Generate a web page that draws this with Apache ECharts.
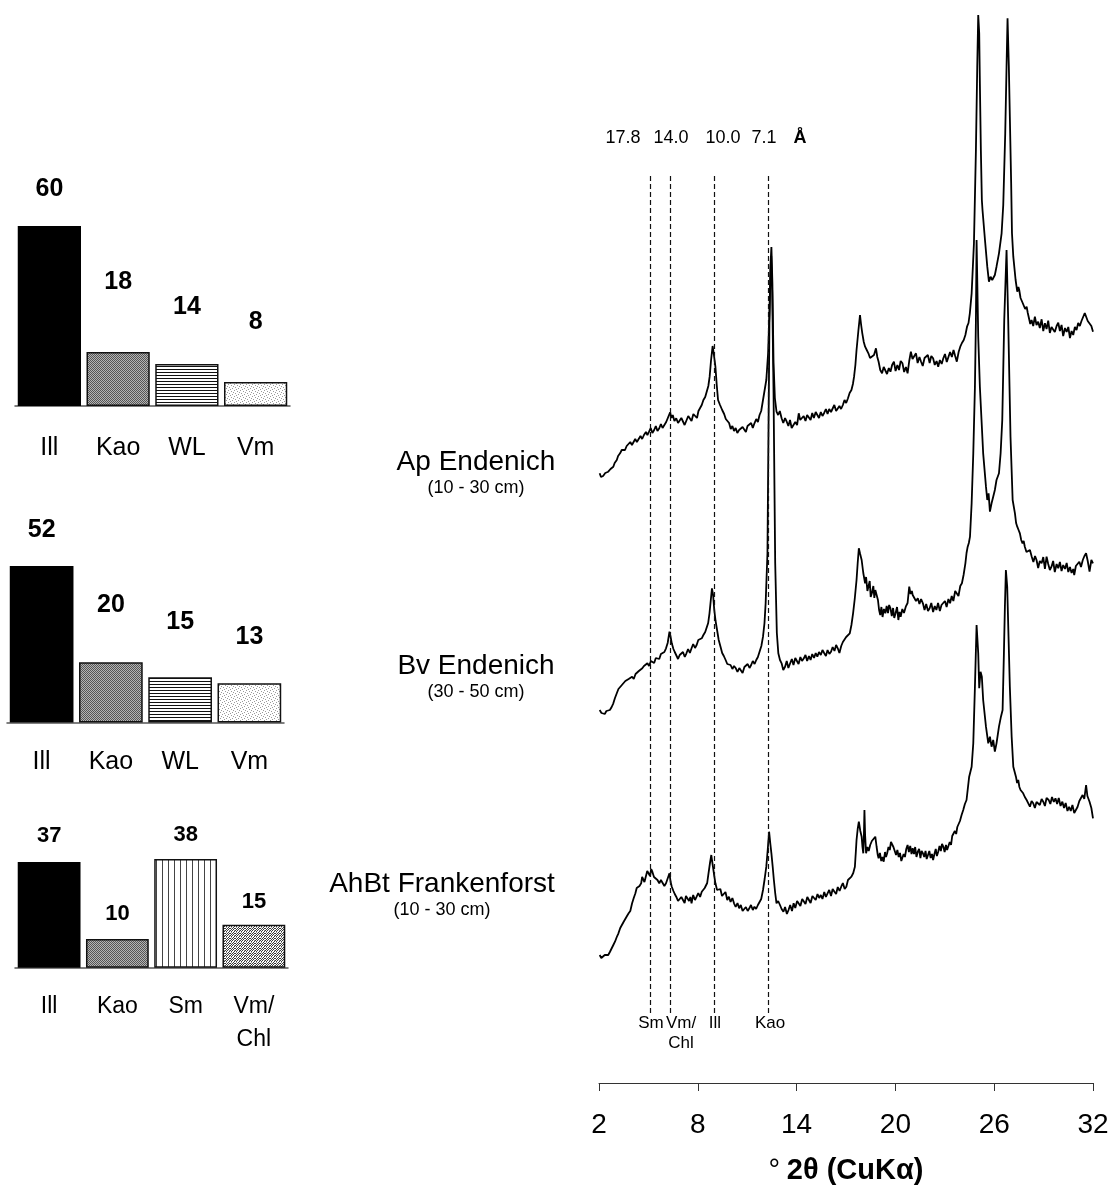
<!DOCTYPE html>
<html>
<head>
<meta charset="utf-8">
<script src="https://cdn.jsdelivr.net/npm/echarts@6/dist/echarts.min.js"></script>
<style>html,body{margin:0;padding:0;background:#fff}#c{width:1114px;height:1194px}</style>
</head>
<body>
<div id="c"></div>
<script>
// ---------- DATA ----------
const chart1Categories = ['Ill', 'Kao', 'WL', 'Vm'];
const chart1Values = [60, 18, 14, 8];
const chart2Categories = ['Ill', 'Kao', 'WL', 'Vm'];
const chart2Values = [52, 20, 15, 13];
const chart3Categories = ['Ill', 'Kao', 'Sm', 'Vm/\nChl'];
const chart3Values = [37, 10, 38, 15];

const xrdTicks = [2, 8, 14, 20, 26, 32];
const dSpacingLabels = ['17.8', '14.0', '10.0', '7.1'];
const dSpacing2Theta = [5.1, 6.33, 9.0, 12.3];
const mineralLabels = ['Sm', 'Vm/\nChl', 'Ill', 'Kao'];
const sampleNames = ['Ap Endenich', 'Bv Endenich', 'AhBt Frankenforst'];
const sampleDepths = ['(10 - 30 cm)', '(30 - 50 cm)', '(10 - 30 cm)'];

const traceApEndenich = [[2.04,609.7],[2.12,606],[2.25,607],[2.38,610],[2.47,608],[2.56,611.3],[2.70,614],[2.78,612],[2.87,616.3],[2.95,620],[3.08,623],[3.16,627],[3.22,625],[3.28,629.7],[3.38,633],[3.49,634.7],[3.58,633],[3.68,637],[3.80,637],[3.90,641],[4.00,638],[4.11,639.7],[4.20,644],[4.30,641],[4.42,643],[4.52,647],[4.62,644],[4.73,648],[4.85,651],[4.94,648],[5.04,651.3],[5.14,655],[5.24,650],[5.35,653],[5.45,657],[5.55,652],[5.66,654.7],[5.76,659],[5.86,655],[5.97,658],[6.08,661],[6.17,663],[6.32,670.7],[6.40,665],[6.48,668],[6.58,662],[6.69,664.7],[6.80,660],[6.90,658],[7.00,665],[7.10,663],[7.20,658],[7.31,659.7],[7.42,667],[7.52,666.3],[7.62,662],[7.73,669],[7.83,668],[7.95,665],[8.04,672],[8.14,673],[8.24,678],[8.34,683],[8.45,686],[8.55,688],[8.64,697],[8.72,706.3],[8.80,722],[8.90,737],[8.98,728],[9.07,716.3],[9.15,698],[9.23,683],[9.35,678],[9.48,673],[9.60,669],[9.70,664],[9.79,663],[9.90,660],[10.00,654],[10.10,657],[10.20,652],[10.30,655],[10.40,650],[10.51,653],[10.62,651],[10.72,656],[10.82,654.7],[10.92,651],[11.02,657],[11.13,656.3],[11.24,660],[11.34,655],[11.44,659.7],[11.55,664],[11.65,661],[11.75,668],[11.85,672],[11.96,683],[12.16,703],[12.27,729.7],[12.35,770],[12.42,820],[12.47,836],[12.53,800],[12.60,720],[12.68,685],[12.78,671.3],[12.88,668],[12.98,672],[13.09,664.7],[13.19,660],[13.30,665],[13.40,661.3],[13.50,657],[13.60,663],[13.70,655],[13.82,657],[13.92,661],[14.03,658],[14.13,669.7],[14.22,663],[14.33,661.3],[14.43,667],[14.54,662],[14.64,668],[14.75,666.3],[14.85,663],[14.95,670],[15.05,665],[15.16,671],[15.26,668],[15.36,665],[15.47,671],[15.57,667],[15.68,670.3],[15.78,674],[15.88,669],[15.98,674],[16.09,671],[16.19,673],[16.29,678],[16.40,672],[16.50,671.3],[16.60,677],[16.70,674],[16.81,678],[16.91,683],[17.01,680],[17.12,684.7],[17.22,690],[17.33,693],[17.42,699],[17.49,706.3],[17.57,718],[17.64,733],[17.75,752],[17.85,768],[17.92,758],[17.99,749.7],[18.08,741],[18.16,736.3],[18.26,733],[18.36,729.7],[18.46,725],[18.57,723],[18.70,728],[18.82,734.7],[18.90,726],[18.98,721.3],[19.08,713],[19.19,709.7],[19.29,716],[19.39,714.7],[19.49,709],[19.60,715],[19.70,711.3],[19.80,718],[19.91,721.3],[20.01,712],[20.12,718],[20.22,713],[20.32,722],[20.43,719.7],[20.53,711],[20.64,716],[20.74,709.7],[20.84,722],[20.94,731.3],[21.04,724],[21.15,727],[21.25,729.7],[21.35,720],[21.46,726],[21.56,721.3],[21.66,717],[21.77,725],[21.87,723],[21.97,728],[22.08,720],[22.18,727],[22.29,724.7],[22.39,718],[22.50,722],[22.60,716.3],[22.70,723],[22.81,719],[22.91,724.7],[23.01,729],[23.12,721],[23.22,723],[23.32,731],[23.43,726],[23.53,733],[23.63,727],[23.73,721.3],[23.84,731],[23.94,736.3],[24.04,740],[24.15,743],[24.25,748],[24.35,756.3],[24.44,760],[24.52,769.7],[24.63,789.7],[24.77,839.7],[24.89,933],[24.97,1016],[25.03,1068],[25.09,1049.7],[25.13,999.7],[25.19,933],[25.25,883],[25.29,873],[25.44,843],[25.58,816.3],[25.68,801.3],[25.78,806.3],[25.88,803],[26.04,808],[26.14,816.3],[26.29,829.7],[26.45,849.7],[26.55,878],[26.67,949.7],[26.75,1016.3],[26.81,1064.7],[26.89,1016.3],[26.95,966.3],[27.03,899.7],[27.08,849.7],[27.16,826.3],[27.30,803],[27.40,791.3],[27.47,796],[27.52,793],[27.60,785],[27.66,786.3],[27.73,780],[27.80,781.3],[27.88,774],[27.97,776.3],[28.04,770],[28.11,768],[28.19,759],[28.27,763],[28.37,757],[28.47,766.3],[28.57,758],[28.67,761.3],[28.77,755],[28.88,763.7],[28.98,752],[29.08,759.7],[29.18,754],[29.28,762.3],[29.38,750],[29.48,756],[29.58,758],[29.68,751],[29.79,757],[29.89,760.3],[29.99,752],[30.09,758],[30.19,747],[30.30,755],[30.40,751],[30.50,756],[30.60,745],[30.70,752],[30.80,748],[30.90,756],[31.00,753],[31.10,760],[31.20,757],[31.30,762],[31.40,760],[31.50,770],[31.58,768],[31.68,762],[31.79,763],[31.90,757],[32.0,751.3]];

const traceBvEndenich = [[2.04,373],[2.15,370],[2.25,372],[2.35,369],[2.45,372],[2.56,370],[2.66,373],[2.77,376],[2.87,379.7],[2.97,385],[3.08,389.7],[3.18,394],[3.29,393],[3.39,398],[3.49,397],[3.60,402],[3.70,401.3],[3.80,404],[3.91,403],[4.01,406.3],[4.11,404],[4.22,409],[4.32,409.7],[4.42,412],[4.53,411],[4.63,414.7],[4.73,417],[4.84,415],[4.94,419.7],[5.04,417],[5.15,422],[5.25,423],[5.35,420],[5.45,425],[5.55,426.3],[5.66,424],[5.76,429],[5.86,428],[5.97,431],[6.07,434.7],[6.17,440],[6.28,451.3],[6.35,446],[6.42,439.7],[6.52,434],[6.60,431],[6.69,429.7],[6.80,424],[6.90,428],[7.00,426.3],[7.10,431],[7.21,426],[7.31,429.7],[7.41,434],[7.52,430],[7.62,434.7],[7.72,439],[7.83,435],[7.93,438],[8.03,443],[8.14,441],[8.24,444.7],[8.34,448],[8.45,451],[8.55,453],[8.63,460],[8.71,469.7],[8.79,483],[8.86,494.7],[8.93,488],[9.00,473],[9.08,462],[9.17,453],[9.27,443],[9.38,436.3],[9.48,430],[9.58,427],[9.69,423],[9.79,419],[9.89,421],[9.99,418],[10.10,414],[10.20,417],[10.31,414.7],[10.41,411],[10.52,415],[10.62,413],[10.72,410],[10.83,416],[10.93,414.7],[11.03,419],[11.14,415],[11.24,418],[11.34,422],[11.45,419],[11.55,423],[11.65,426],[11.75,431.3],[11.86,437],[11.96,446.3],[12.05,460],[12.12,479.7],[12.23,529.7],[12.35,760],[12.42,815],[12.46,827],[12.52,790],[12.60,690],[12.70,520],[12.80,450],[12.89,429.7],[12.99,423],[13.09,419.7],[13.19,413],[13.30,416.3],[13.40,422],[13.50,415],[13.61,419.7],[13.71,424],[13.81,418],[13.92,425],[14.02,423],[14.12,419],[14.23,426],[14.33,422],[14.44,424.7],[14.54,428],[14.64,422],[14.75,427],[14.85,423],[14.95,429],[15.06,425],[15.16,430],[15.26,426.3],[15.36,431],[15.47,428],[15.57,433],[15.68,429.7],[15.78,427],[15.88,433],[15.99,429],[16.09,431.3],[16.19,436],[16.30,432],[16.40,438],[16.50,434.7],[16.60,430],[16.71,437],[16.81,441],[16.91,439.7],[17.01,446],[17.12,444],[17.23,449.7],[17.33,458],[17.43,469.7],[17.53,484],[17.64,503],[17.71,520],[17.78,534.7],[17.86,529],[17.95,523],[18.05,510],[18.16,499.7],[18.22,506],[18.30,492],[18.36,493],[18.44,502],[18.50,486],[18.57,489.7],[18.66,497],[18.72,485],[18.78,493],[18.86,488],[18.94,483],[19.01,473],[19.08,468],[19.15,476],[19.22,466],[19.30,474],[19.39,469.7],[19.47,477],[19.55,470],[19.62,478],[19.70,474.7],[19.78,467],[19.86,475],[19.93,465],[20.01,469.7],[20.10,476],[20.18,463],[20.25,471],[20.32,466.3],[20.42,474],[20.52,470],[20.63,476.3],[20.74,480],[20.84,496.3],[20.92,489],[21.00,492],[21.05,488],[21.15,490],[21.25,482],[21.36,484.7],[21.46,479],[21.56,484],[21.67,479.7],[21.77,473],[21.87,479],[21.98,472],[22.08,474.7],[22.18,480],[22.29,471],[22.39,477],[22.49,473],[22.59,480],[22.70,472],[22.80,478],[22.91,476.3],[23.01,482],[23.11,476],[23.22,484],[23.32,479.7],[23.42,487],[23.52,482],[23.63,492],[23.73,491.3],[23.83,487],[23.94,497],[24.04,499.7],[24.14,508],[24.25,519.7],[24.32,530],[24.39,536.3],[24.46,540],[24.53,546.3],[24.63,579.7],[24.73,629.7],[24.83,696.3],[24.89,763],[24.93,843],[25.03,746.3],[25.13,696.3],[25.23,663],[25.33,629.7],[25.50,596.3],[25.58,583],[25.66,589.7],[25.74,571.3],[25.84,579.7],[25.94,586.3],[26.04,593],[26.14,603],[26.29,609.7],[26.39,629.7],[26.49,663],[26.55,713],[26.61,763],[26.75,833],[26.85,763],[26.91,713],[26.99,646.3],[27.12,583],[27.26,569.7],[27.33,560],[27.40,556.3],[27.48,553],[27.56,549.7],[27.64,543],[27.72,539.7],[27.79,542],[27.86,536.3],[27.96,531],[28.07,529.7],[28.17,533],[28.28,526.3],[28.38,521],[28.48,527],[28.57,523],[28.67,515],[28.77,522],[28.88,519.7],[28.98,526],[29.08,514],[29.18,526.3],[29.28,519],[29.38,513],[29.48,516.3],[29.58,522],[29.68,511],[29.79,519],[29.89,514.7],[29.99,521],[30.09,512],[30.19,518],[30.30,514],[30.40,520],[30.50,511],[30.60,516],[30.70,510],[30.80,514],[30.86,508],[30.96,517],[31.07,519],[31.17,521.3],[31.27,516],[31.38,523],[31.48,527],[31.58,529.7],[31.68,522],[31.79,511.3],[31.90,523],[32.0,519.7]];

const traceAhBtFrankenforst = [[2.04,128],[2.14,125],[2.25,124.7],[2.35,128],[2.45,126],[2.56,128],[2.66,131],[2.77,133],[2.87,138],[2.97,141.3],[3.08,146],[3.18,149.7],[3.29,155],[3.39,156.3],[3.49,161],[3.59,163],[3.70,167],[3.80,169.7],[3.90,172],[4.01,179.7],[4.11,185],[4.21,189.7],[4.29,195],[4.36,196.3],[4.46,197],[4.56,199.7],[4.62,206],[4.69,208],[4.76,201],[4.83,203],[4.93,212],[5.04,213],[5.10,207],[5.17,214],[5.24,211.3],[5.34,206],[5.45,204.7],[5.55,203],[5.66,199.7],[5.76,203],[5.86,201.3],[5.97,197],[6.07,199.7],[6.18,201],[6.28,209.7],[6.35,201],[6.42,196.3],[6.52,192],[6.60,189],[6.69,186.3],[6.80,182],[6.90,181.3],[7.00,186],[7.10,183],[7.20,180],[7.28,187],[7.37,188],[7.47,182],[7.55,186],[7.62,179.7],[7.72,188],[7.83,183],[7.93,186.3],[8.03,190],[8.14,186],[8.24,191.3],[8.34,190],[8.42,195],[8.49,194.7],[8.57,200],[8.65,209.7],[8.74,220],[8.82,228],[8.87,222],[8.92,216.3],[9.00,207],[9.07,199.7],[9.17,193],[9.27,191.3],[9.37,194],[9.47,187],[9.58,188],[9.68,191],[9.79,183],[9.89,186.3],[9.99,181],[10.10,185],[10.20,179.7],[10.30,176],[10.41,180],[10.51,174.7],[10.61,178],[10.72,172],[10.82,171.3],[10.92,176],[11.03,172],[11.13,174.7],[11.23,178],[11.34,173],[11.44,176.3],[11.54,174],[11.65,178],[11.75,179.7],[11.85,184],[11.96,193],[12.06,204],[12.16,216.3],[12.25,234],[12.33,251.3],[12.40,240],[12.47,229.7],[12.55,216],[12.62,203],[12.70,190],[12.78,179.7],[12.88,182],[12.99,178],[13.09,174],[13.20,171.3],[13.30,176],[13.41,169],[13.51,173],[13.61,178],[13.72,172],[13.82,179.7],[13.92,175],[14.03,182],[14.13,181.3],[14.23,177],[14.34,184],[14.44,183],[14.54,179],[14.65,186],[14.75,184.7],[14.85,180],[14.96,187],[15.06,188],[15.16,183],[15.27,189],[15.37,185],[15.47,188],[15.57,184],[15.68,191],[15.78,186],[15.88,189.7],[15.98,193],[16.09,187],[16.19,194],[16.30,191.3],[16.40,189],[16.50,196],[16.61,192],[16.71,196.3],[16.81,200],[16.92,194],[17.02,196.3],[17.12,203],[17.23,201],[17.33,206.3],[17.44,210],[17.54,216.3],[17.60,232],[17.64,243],[17.71,254],[17.78,261.3],[17.87,252],[17.95,246.3],[18.00,236],[18.05,229.7],[18.09,250],[18.12,273],[18.16,248],[18.22,229.7],[18.30,236],[18.38,232],[18.47,238],[18.57,242],[18.68,240],[18.78,246.3],[18.86,236],[18.93,228],[18.98,224.7],[19.06,230],[19.14,222],[19.22,226],[19.29,221.3],[19.37,231],[19.43,226],[19.50,229.7],[19.58,236],[19.66,233],[19.73,241],[19.81,243],[19.88,236],[19.96,238],[20.04,228],[20.12,233],[20.20,226],[20.28,230],[20.36,222],[20.43,221.3],[20.50,229],[20.58,226],[20.66,234],[20.74,238],[20.82,231],[20.90,237],[20.98,229],[21.05,234.7],[21.13,229],[21.20,236],[21.28,226],[21.36,231.3],[21.44,234],[21.52,225],[21.59,232],[21.67,229.7],[21.75,226],[21.83,232],[21.90,224],[21.98,228],[22.06,232],[22.14,225],[22.22,229],[22.29,223],[22.37,229],[22.45,234],[22.52,227],[22.60,231.3],[22.68,237],[22.76,232],[22.83,239],[22.91,236.3],[22.99,231],[23.07,238],[23.14,233],[23.22,233],[23.30,241],[23.38,238],[23.45,247],[23.53,246.3],[23.61,252],[23.69,249],[23.76,256],[23.82,256.3],[23.92,262],[24.02,268],[24.12,273],[24.22,279],[24.32,283],[24.48,306.3],[24.63,316.3],[24.73,339.7],[24.83,396.3],[24.93,458],[25.03,429.7],[25.09,394.7],[25.17,411.3],[25.25,406.3],[25.33,383],[25.50,356.3],[25.64,339.7],[25.74,346.3],[25.84,336.3],[25.94,343],[26.04,331.3],[26.14,339.7],[26.29,356.3],[26.41,366.3],[26.51,373],[26.59,429.7],[26.65,476.3],[26.71,513],[26.79,496.3],[26.87,446.3],[26.95,396.3],[27.06,346.3],[27.16,316.3],[27.32,306.3],[27.39,300],[27.46,303],[27.53,296],[27.60,293],[27.68,295],[27.76,289.7],[27.86,286],[27.97,283],[28.07,279.7],[28.17,276.3],[28.27,282],[28.37,279.7],[28.47,275],[28.57,281],[28.67,283],[28.77,278],[28.88,284],[28.98,281.3],[29.08,277],[29.18,285],[29.31,283],[29.41,279],[29.51,286],[29.62,281],[29.72,284.7],[29.82,279],[29.92,285],[30.03,277],[30.14,281.3],[30.24,275],[30.34,280],[30.45,272],[30.55,276.3],[30.65,272],[30.75,278],[30.86,270],[30.96,271.3],[31.06,276],[31.17,282],[31.27,281.3],[31.37,288],[31.47,284],[31.58,298],[31.66,287],[31.73,286],[31.79,281.3],[31.90,275],[32.0,264.7]];

// ---------- STYLES ----------
const FONT = '"Liberation Sans", Arial, Helvetica, sans-serif';

function pattern(w, h, draw) {
  const c = document.createElement('canvas');
  c.width = w; c.height = h;
  const ctx = c.getContext('2d');
  ctx.fillStyle = '#fff'; ctx.fillRect(0, 0, w, h);
  draw(ctx);
  return { image: c, repeat: 'repeat' };
}
function dots(ctx, list, col) { ctx.fillStyle = col; list.forEach(p => ctx.fillRect(p[0], p[1], 1, 1)); }

const fills = {
  ill: '#000',
  kao: pattern(2, 2, ctx => { ctx.fillStyle = '#b4b4b4'; ctx.fillRect(0,0,2,2); dots(ctx, [[0,0],[1,1]], '#555'); }),
  wl: pattern(3, 3, ctx => { ctx.fillStyle = '#111'; ctx.fillRect(0, 0, 3, 1); }),
  vm: pattern(6, 6, ctx => { dots(ctx, [[0,0],[3,1],[1,3],[4,4],[2,5],[5,2]], '#9a9a9a'); }),
  sm: pattern(6, 2, ctx => { ctx.fillStyle = '#444'; ctx.fillRect(0, 0, 1, 2); }),
  vmchl: pattern(5, 5, ctx => { dots(ctx, [[0,0],[2,0],[1,1],[4,1],[3,2],[0,3],[2,3],[4,3],[1,4],[3,4]], '#3a3a3a'); dots(ctx, [[1,2],[4,0]], '#999'); })
};
const chart1Fills = [fills.ill, fills.kao, fills.wl, fills.vm];
const chart2Fills = [fills.ill, fills.kao, fills.wl, fills.vm];
const chart3Fills = [fills.ill, fills.kao, fills.sm, fills.vmchl];
const chart1LabelGap = [24, 57, 44, 47];
const chart2LabelGap = [23, 45, 43, 34];
const chart3LabelGap = [15, 14, 13, 12];

// ---------- LAYOUT ----------
const barGrids = [
  { left: 15, width: 275, top: 196, height: 210, max: 70, margin: 27, valFont: 25, catFont: 25, lh: 30 },
  { left: 7, width: 277, top: 542, height: 180.4, max: 60, margin: 25, valFont: 25, catFont: 25, lh: 30 },
  { left: 15, width: 273, top: 839, height: 128.7, max: 45, margin: 22, valFont: 22, catFont: 23, lh: 33 }
];
const barSets = [
  [chart1Categories, chart1Values, chart1Fills, chart1LabelGap],
  [chart2Categories, chart2Values, chart2Fills, chart2LabelGap],
  [chart3Categories, chart3Values, chart3Fills, chart3LabelGap]
];

const grids = [], xAxes = [], yAxes = [], series = [];
barGrids.forEach((g, i) => {
  grids.push({ left: g.left, width: g.width, top: g.top, height: g.height, containLabel: false });
  const [cats, vals, fl, gaps] = barSets[i];
  xAxes.push({
    type: 'category', gridIndex: i, data: cats,
    axisLine: { show: true, lineStyle: { color: '#555', width: 1.5 } },
    axisTick: { show: false },
    axisLabel: { color: '#000', fontFamily: FONT, fontSize: g.catFont, margin: g.margin, lineHeight: g.lh, interval: 0 }
  });
  yAxes.push({ type: 'value', gridIndex: i, min: 0, max: g.max, show: false, splitLine: { show: false } });
  series.push({
    type: 'bar', xAxisIndex: i, yAxisIndex: i, barCategoryGap: '8%',
    data: vals.map((v, k) => ({
      value: v,
      itemStyle: { color: fl[k], borderColor: '#111', borderWidth: k === 0 ? 0 : 1.5 },
      label: { show: true, position: 'top', distance: gaps[k], fontWeight: 'bold', fontSize: g.valFont, fontFamily: FONT, color: '#000' }
    })),
    silent: true, animation: false
  });
});

// XRD grid
const xi = barGrids.length;
grids.push({ left: 599, width: 494, top: 0, bottom: 111, containLabel: false });
xAxes.push({
  type: 'value', gridIndex: xi, min: xrdTicks[0], max: xrdTicks[xrdTicks.length - 1], interval: xrdTicks[1] - xrdTicks[0],
  axisLine: { show: true, lineStyle: { color: '#333', width: 1 } },
  axisTick: { show: true, length: 8, lineStyle: { color: '#333', width: 1 } },
  axisLabel: { color: '#000', fontFamily: FONT, fontSize: 28, margin: 28 },
  splitLine: { show: false },
  name: '{d|°}  {b|2θ (CuKα)}', nameLocation: 'middle', nameGap: 73,
  nameTextStyle: { rich: { d: { fontSize: 29, fontFamily: FONT, color: '#000' }, b: { fontSize: 29, fontWeight: 'bold', fontFamily: FONT, color: '#000' } } }
});
yAxes.push({ type: 'value', gridIndex: xi, min: 0, max: 1083, show: false, splitLine: { show: false } });

[traceApEndenich, traceBvEndenich, traceAhBtFrankenforst].forEach((t, k) => {
  const s = {
    type: 'line', xAxisIndex: xi, yAxisIndex: xi, data: t, showSymbol: false, symbol: 'none',
    lineStyle: { color: '#000', width: 1.8 }, silent: true, animation: false, clip: false
  };
  if (k === 0) {
    s.markLine = {
      symbol: ['none', 'none'], silent: true, animation: false,
      label: { show: false },
      lineStyle: { type: [5, 3], color: '#111', width: 1.2 },
      data: dSpacing2Theta.map(x => [{ coord: [x, 70] }, { coord: [x, 907] }])
    };
  }
  series.push(s);
});

// ---------- TEXT ----------
function txt(text, x, y, size, bold, va) {
  return { type: 'text', x, y, silent: true,
    style: { text, fontSize: size, fontFamily: FONT, fontWeight: bold ? 'bold' : 'normal', fill: '#000', align: 'center', verticalAlign: va || 'middle', lineHeight: 20 } };
}
const dX = [623, 671, 723, 764];
const graphic = [];
dSpacingLabels.forEach((t, i) => graphic.push(txt(t, dX[i], 138, 18, false)));
graphic.push(txt('Å', 800, 138, 18, true));
const mX = [651, 681, 715, 770];
mineralLabels.forEach((t, i) => graphic.push(txt(t, mX[i], 1013, 17, false, 'top')));
const sX = [476, 476, 442], sY = [462, 666, 884];
sampleNames.forEach((t, i) => {
  graphic.push(txt(t, sX[i], sY[i], 28, false));
  graphic.push(txt(sampleDepths[i], sX[i], sY[i] + 26, 18, false));
});

const chart = echarts.init(document.getElementById('c'), null, { renderer: 'canvas' });
chart.setOption({
  backgroundColor: '#fff', animation: false,
  grid: grids, xAxis: xAxes, yAxis: yAxes, series, graphic
});
</script>
</body>
</html>
